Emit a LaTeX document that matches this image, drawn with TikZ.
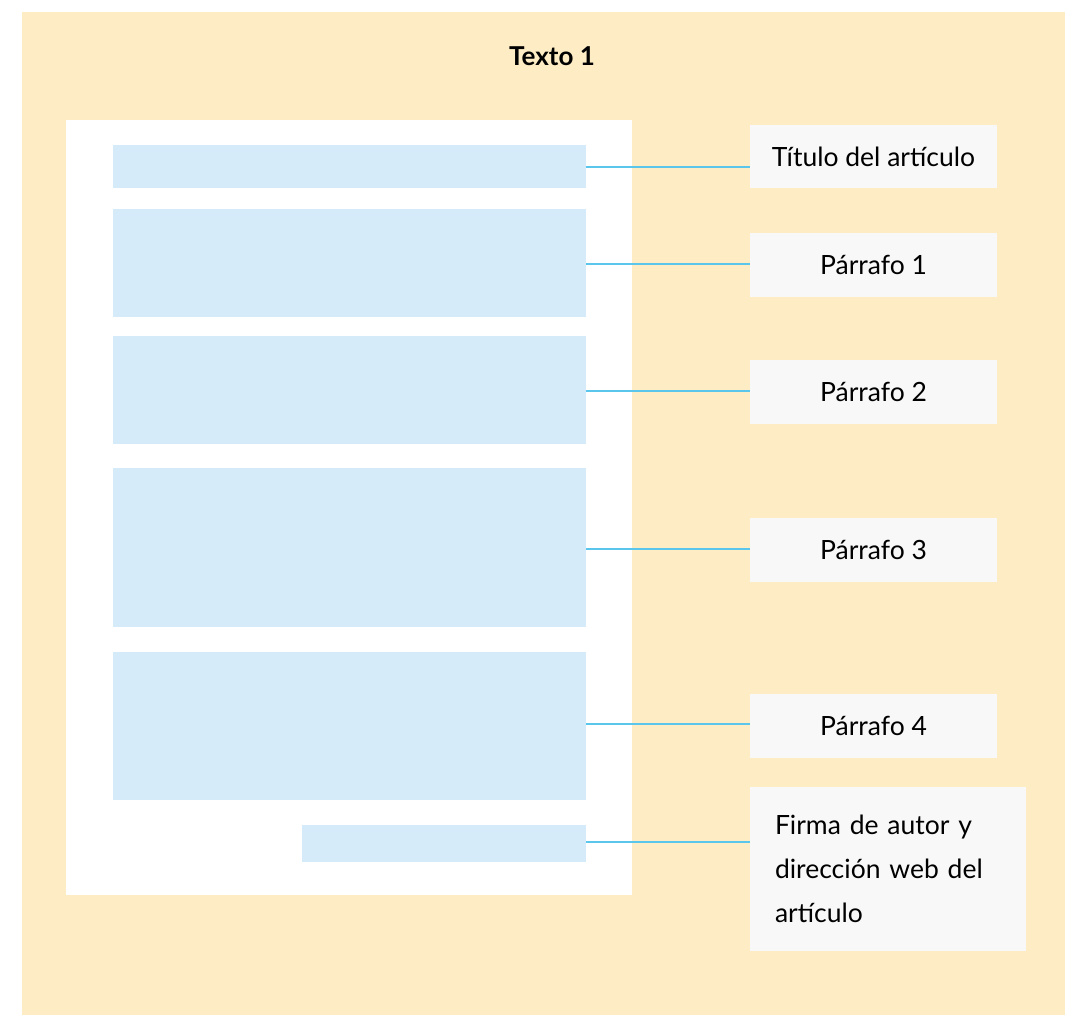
\documentclass[tikz,border=0pt]{standalone}
\usepackage{fontspec}
\setmainfont{Lato}
\definecolor{bgyellow}{HTML}{FEEDC4}
\definecolor{blockblue}{HTML}{D5EBF9}
\definecolor{linkblue}{HTML}{5BC6EC}
\definecolor{labelgrey}{HTML}{F8F8F8}
\tikzset{
  block/.style={fill=blockblue, draw=none, inner sep=0pt},
  labelbox/.style={fill=labelgrey, draw=none, inner sep=0pt, text depth=0pt, font=\fontsize{26.5}{44}\selectfont},
  link/.style={draw=linkblue, line width=2.5pt}
}
\begin{document}
\begin{tikzpicture}[x=1pt,y=-1pt]
\useasboundingbox (0,0) rectangle (1065,1015);
% background panel and page
\fill[bgyellow] (22,12) rectangle (1065,1015);
\fill[white] (66,120) rectangle (632,895);
\node[font=\fontsize{26}{30}\selectfont\bfseries] (title) at (552,56) {Texto 1};
% page blocks
\node[block, minimum width=473pt, minimum height=43pt] (b1) at (349.5,166.5) {};
\node[block, minimum width=473pt, minimum height=108pt] (b2) at (349.5,263) {};
\node[block, minimum width=473pt, minimum height=108pt] (b3) at (349.5,390) {};
\node[block, minimum width=473pt, minimum height=159pt] (b4) at (349.5,547.5) {};
\node[block, minimum width=473pt, minimum height=148pt] (b5) at (349.5,726) {};
\node[block, minimum width=284pt, minimum height=37pt] (b6) at (444,843.5) {};
% labels
\node[labelbox, minimum width=247pt, minimum height=63pt] (l1) at (873.5,156.5) {Título del artículo};
\node[labelbox, minimum width=247pt, minimum height=64pt] (l2) at (873.5,265) {Párrafo 1};
\node[labelbox, minimum width=247pt, minimum height=64pt] (l3) at (873.5,392) {Párrafo 2};
\node[labelbox, minimum width=247pt, minimum height=64pt] (l4) at (873.5,550) {Párrafo 3};
\node[labelbox, minimum width=247pt, minimum height=64pt] (l5) at (873.5,726) {Párrafo 4};
\node[labelbox, text depth=, minimum width=276pt, minimum height=164pt, text width=226pt, align=left] (l6) at (888,869) {Firma de autor y\\dirección web del\\artículo};
% connectors
\draw[link] (b1.east |- 0,167) -- (l1.west |- 0,167);
\draw[link] (b2.east |- 0,264) -- (l2.west |- 0,264);
\draw[link] (b3.east |- 0,391) -- (l3.west |- 0,391);
\draw[link] (b4.east |- 0,549) -- (l4.west |- 0,549);
\draw[link] (b5.east |- 0,724) -- (l5.west |- 0,724);
\draw[link] (b6.east |- 0,842) -- (l6.west |- 0,842);
\end{tikzpicture}
\end{document}
